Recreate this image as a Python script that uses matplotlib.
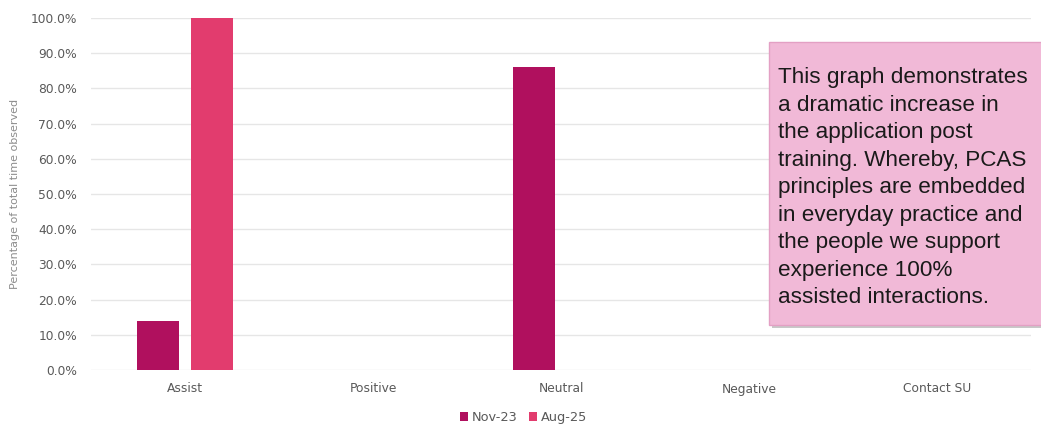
import numpy as np
import matplotlib.pyplot as plt
from matplotlib.patches import Rectangle
from matplotlib.ticker import FuncFormatter

categories = ['Assist', 'Positive', 'Neutral', 'Negative', 'Contact SU']
nov_23 = [14.0, 0.0, 86.0, 0.0, 0.0]
aug_25 = [100.0, 0.0, 0.0, 0.0, 0.0]
series_names = ['Nov-23', 'Aug-25']
note = ("This graph demonstrates\n"
        "a dramatic increase in\n"
        "the application post\n"
        "training. Whereby, PCAS\n"
        "principles are embedded\n"
        "in everyday practice and\n"
        "the people we support\n"
        "experience 100%\n"
        "assisted interactions.")

W, H = 1041, 425
fig = plt.figure(figsize=(W / 100, H / 100), dpi=100)
ax = fig.add_axes([91 / W, 1 - 370 / H, (1031 - 91) / W, (370 - 18) / H])

x = np.arange(len(categories))
bw = 0.223
off = 0.144
c1, c2 = '#B0105E', '#E23C6E'
ax.bar(x - off, nov_23, bw, color=c1, label=series_names[0], zorder=3)
ax.bar(x + off, aug_25, bw, color=c2, label=series_names[1], zorder=3)

ax.set_xlim(-0.5, len(categories) - 0.5)
ax.set_ylim(0, 100)
ax.set_yticks(np.arange(0, 101, 10))
ax.yaxis.set_major_formatter(FuncFormatter(lambda v, p: f'{v:.1f}%'))
ax.set_xticks(x)
ax.set_xticklabels(categories)
ax.grid(axis='y', color='#E6E6E6', linewidth=1, zorder=0)
for s in ax.spines.values():
    s.set_visible(False)
ax.tick_params(length=0, labelsize=8.8, labelcolor='#595959')
ax.tick_params(axis='y', pad=10)
ax.tick_params(axis='x', pad=9)
ax.set_ylabel('Percentage of total time observed', fontsize=8, color='#8C8C8C', labelpad=8)

ax.legend(loc='center', bbox_to_anchor=(0.46, -0.135), ncol=2, frameon=False,
          fontsize=9.3, labelcolor='#595959', handlelength=0.6, handleheight=0.6,
          handletextpad=0.3, columnspacing=0.9)

# note box with shadow
bx0, by0, bx1, by1 = 769, 42, 1045, 325
shadow = Rectangle(((bx0 + 3) / W, 1 - (by1 + 3) / H), (bx1 - bx0) / W, (by1 - by0) / H,
                   transform=fig.transFigure, facecolor='#C8C8C8', edgecolor='none', zorder=5)
fig.patches.append(shadow)
box = Rectangle((bx0 / W, 1 - by1 / H), (bx1 - bx0) / W, (by1 - by0) / H,
                transform=fig.transFigure, facecolor='#F1B9D7', edgecolor='#E3A0C4',
                linewidth=1, zorder=6)
fig.patches.append(box)
fig.text(778 / W, 1 - 67 / H, note, fontsize=16.2, family='Liberation Sans',
         color='#1A1A1A', va='top', ha='left', linespacing=1.41, zorder=7)

fig.savefig('out.png', dpi=100)
